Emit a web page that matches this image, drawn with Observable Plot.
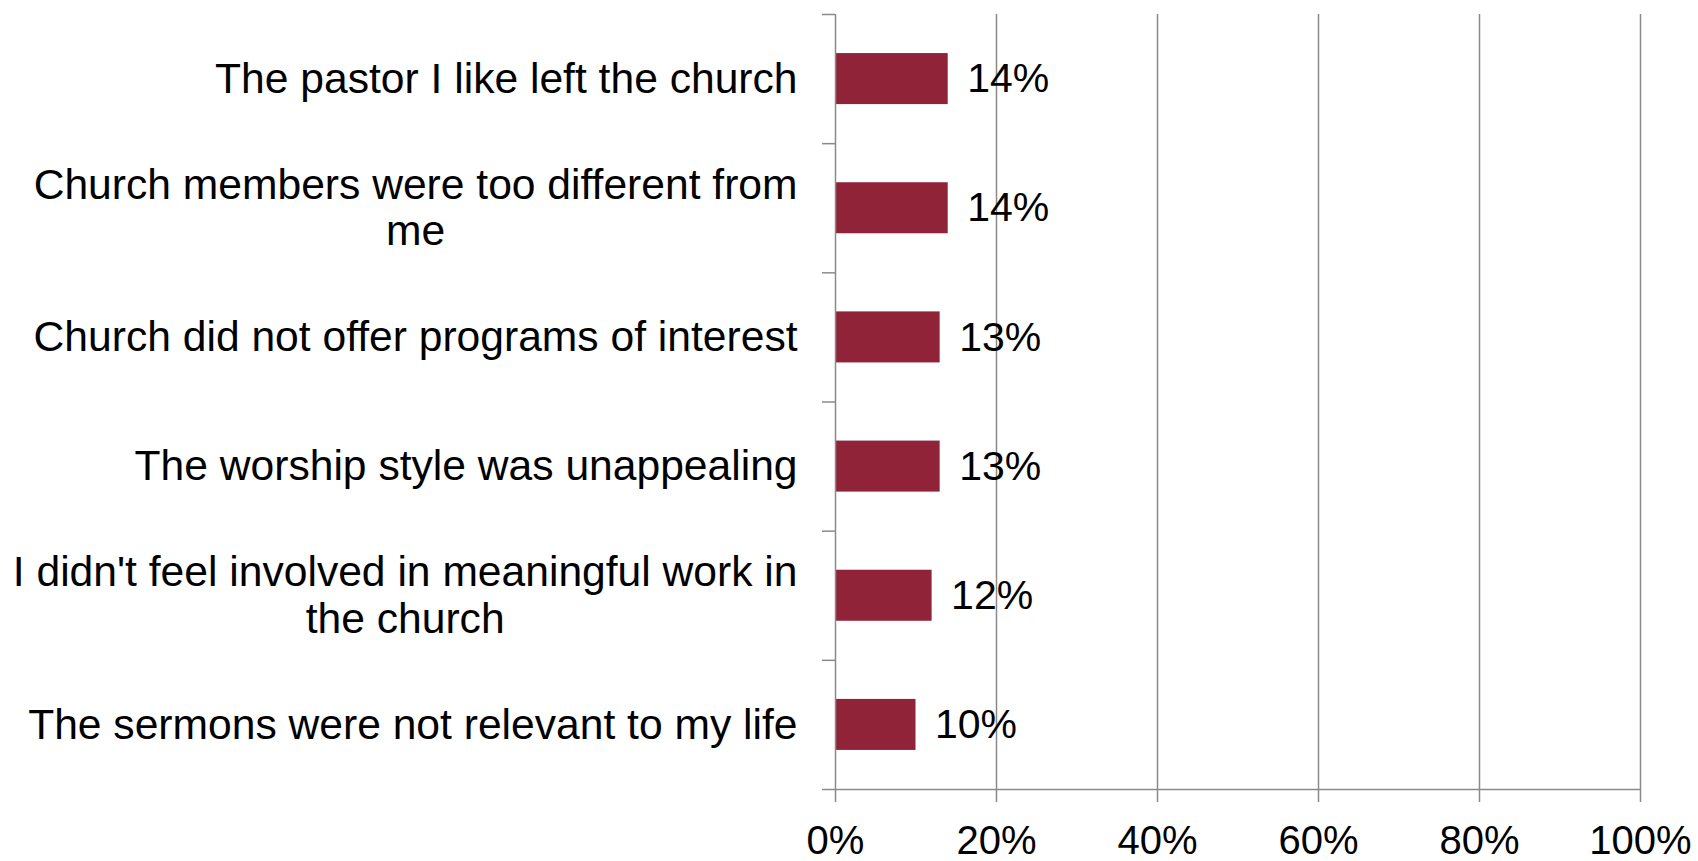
<!DOCTYPE html>
<html><head><meta charset="utf-8">
<script src="https://cdn.jsdelivr.net/npm/d3@7"></script>
<script src="https://cdn.jsdelivr.net/npm/@observablehq/plot@0.6"></script>
<style>html,body{margin:0;padding:0;background:#fff}</style>
</head><body><div id="chart"></div>
<script>
const categories = [
  "The pastor I like left the church",
  "Church members were too different from me",
  "Church did not offer programs of interest",
  "The worship style was unappealing",
  "I didn't feel involved in meaningful work in the church",
  "The sermons were not relevant to my life"
];
const labelLines = [
  ["The pastor I like left the church"],
  ["Church members were too different from", "me"],
  ["Church did not offer programs of interest"],
  ["The worship style was unappealing"],
  ["I didn't feel involved in meaningful work in", "the church"],
  ["The sermons were not relevant to my life"]
];
const values = [0.14, 0.14, 0.13, 0.13, 0.12, 0.10];
const valueLabels = ["14%", "14%", "13%", "13%", "12%", "10%"];
const xTicks = [0, 0.2, 0.4, 0.6, 0.8, 1.0];
const xTickLabels = ["0%", "20%", "40%", "60%", "80%", "100%"];

const FONT = "'Liberation Sans', Arial, sans-serif";
const GRAY = "#8a8a8a";
const BAR = "#912339";
const barFrac = 0.395;
const labelSize = 42.6, lineH = 46.6, labelGap = 38;

const data = categories.map((c, i) => ({c, i, v: values[i], t: valueLabels[i]}));
const n = categories.length;

const ctx = document.createElement("canvas").getContext("2d");
ctx.font = `${labelSize}px ${FONT}`;

const labelMarks = labelLines.flatMap((lines, i) => {
  const maxW = d3.max(lines, l => ctx.measureText(l).width);
  return lines.map((line, j) => Plot.text([{i, line}], {
    x: () => 0,
    y: d => d.i + 0.5,
    text: d => d.line,
    textAnchor: "middle",
    dx: -labelGap - maxW / 2,
    dy: (j - (lines.length - 1) / 2) * lineH,
    fontSize: labelSize,
    fill: "#000"
  }));
});

const chart = Plot.plot({
  width: 1698,
  height: 861,
  marginLeft: 835,
  marginRight: 58,
  marginTop: 14,
  marginBottom: 72,
  style: {fontFamily: FONT, background: "#fff", color: "#000"},
  x: {domain: [0, 1]},
  y: {domain: [0, n], reverse: true},
  marks: [
    Plot.ruleX(xTicks.slice(1), {stroke: GRAY, strokeWidth: 1.5}),
    Plot.rect(data, {
      x1: () => 0, x2: "v",
      y1: d => d.i + (1 - barFrac) / 2,
      y2: d => d.i + (1 + barFrac) / 2,
      fill: BAR
    }),
    Plot.ruleX([0], {stroke: GRAY, strokeWidth: 1.5}),
    Plot.ruleY([n], {stroke: GRAY, strokeWidth: 1.5}),
    Plot.axisY(d3.range(n + 1), {tickSize: 13, tickFormat: () => "", stroke: GRAY, strokeWidth: 1.5, label: null}),
    Plot.axisX(xTicks, {
      tickSize: 13, tickPadding: 23, fontSize: 40,
      tickFormat: (d, k) => xTickLabels[k],
      stroke: GRAY, strokeWidth: 1.5, fill: "#000", label: null
    }),
    Plot.text(data, {x: "v", y: d => d.i + 0.5, text: "t", textAnchor: "start", dx: 19, fontSize: 41, fill: "#000"}),
    ...labelMarks
  ]
});
document.getElementById("chart").appendChild(chart);
</script>
</body></html>
